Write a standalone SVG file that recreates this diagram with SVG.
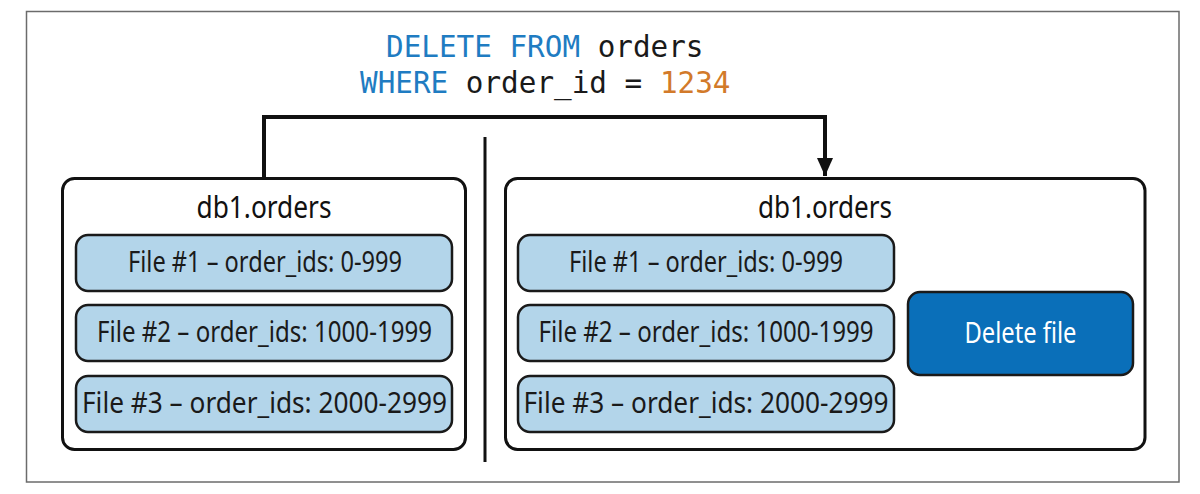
<svg xmlns="http://www.w3.org/2000/svg" width="1200" height="494" viewBox="0 0 1200 494">
  <defs>
    <style>
      .code { font-family: "DejaVu Sans Mono", "Liberation Mono", monospace; font-size: 29.3px; fill: #1a1a1a; }
      .kw { fill: #1f7cc2; }
      .num { fill: #d27a2a; }
      .container { fill: #ffffff; stroke: #111111; stroke-width: 3; }
      .file { fill: #b3d5ea; stroke: #1a1a1a; stroke-width: 2.5; }
      .del { fill: #0a6fb9; stroke: #1a1a1a; stroke-width: 2.5; }
      .title { font-family: "Noto Sans", "Open Sans", sans-serif; font-size: 30px; fill: #111111; text-anchor: middle; }
      .label { font-family: "Noto Sans", "Open Sans", sans-serif; font-size: 28.5px; fill: #1a1a1a; text-anchor: middle; }
      .dlabel { font-family: "Noto Sans", "Open Sans", sans-serif; font-size: 28.5px; fill: #ffffff; text-anchor: middle; }
      .conn { fill: none; stroke: #111111; stroke-width: 4; }
    </style>
    <marker id="arrow" viewBox="0 0 18 16" refX="18" refY="8" markerWidth="18" markerHeight="16" markerUnits="userSpaceOnUse" orient="auto">
      <path d="M0,0 L18,8 L0,16 Z" fill="#111111"/>
    </marker>
  </defs>

  <rect x="0" y="0" width="1200" height="494" fill="#ffffff"/>
  <rect id="frame" x="26.5" y="11.5" width="1152.5" height="470.5" fill="none" stroke="#6b6b6b" stroke-width="1.5"/>

  <g id="query">
    <text class="code" x="386" y="57"><tspan class="kw">DELETE FROM</tspan> orders</text>
    <text class="code" x="360" y="93"><tspan class="kw">WHERE</tspan> order_id = <tspan class="num">1234</tspan></text>
  </g>

  <g id="connectors">
    <path class="conn" d="M264,179 L264,117 L825,117 L825,176" marker-end="url(#arrow)"/>
    <line x1="485" y1="137" x2="485" y2="462" stroke="#111111" stroke-width="3"/>
  </g>

  <g id="before">
    <rect class="container" x="62.5" y="178.5" width="403" height="271" rx="12"/>
    <text class="title" x="264" y="218" textLength="135" lengthAdjust="spacingAndGlyphs">db1.orders</text>
    <g id="before-file1">
      <rect class="file" x="76" y="235" width="376" height="56" rx="12"/>
      <text class="label" x="265" y="272" textLength="274" lengthAdjust="spacingAndGlyphs">File #1 – order_ids: 0-999</text>
    </g>
    <g id="before-file2">
      <rect class="file" x="76" y="305" width="376" height="56" rx="12"/>
      <text class="label" x="264.5" y="342" textLength="335" lengthAdjust="spacingAndGlyphs">File #2 – order_ids: 1000-1999</text>
    </g>
    <g id="before-file3">
      <rect class="file" x="76" y="376" width="376" height="56" rx="12"/>
      <text class="label" x="264.5" y="413" textLength="365" lengthAdjust="spacingAndGlyphs">File #3 – order_ids: 2000-2999</text>
    </g>
  </g>

  <g id="after">
    <rect class="container" x="505.5" y="178.5" width="639.5" height="271" rx="12"/>
    <text class="title" x="825" y="218" textLength="134" lengthAdjust="spacingAndGlyphs">db1.orders</text>
    <g id="after-file1">
      <rect class="file" x="518" y="235" width="376" height="56" rx="12"/>
      <text class="label" x="706" y="272" textLength="274" lengthAdjust="spacingAndGlyphs">File #1 – order_ids: 0-999</text>
    </g>
    <g id="after-file2">
      <rect class="file" x="518" y="305" width="376" height="56" rx="12"/>
      <text class="label" x="706" y="342" textLength="335" lengthAdjust="spacingAndGlyphs">File #2 – order_ids: 1000-1999</text>
    </g>
    <g id="after-file3">
      <rect class="file" x="518" y="376" width="376" height="56" rx="12"/>
      <text class="label" x="706" y="413" textLength="365" lengthAdjust="spacingAndGlyphs">File #3 – order_ids: 2000-2999</text>
    </g>
    <g id="delete-file">
      <rect class="del" x="908" y="292" width="225" height="83" rx="12"/>
      <text class="dlabel" x="1020.5" y="343" textLength="112" lengthAdjust="spacingAndGlyphs">Delete file</text>
    </g>
  </g>
</svg>
